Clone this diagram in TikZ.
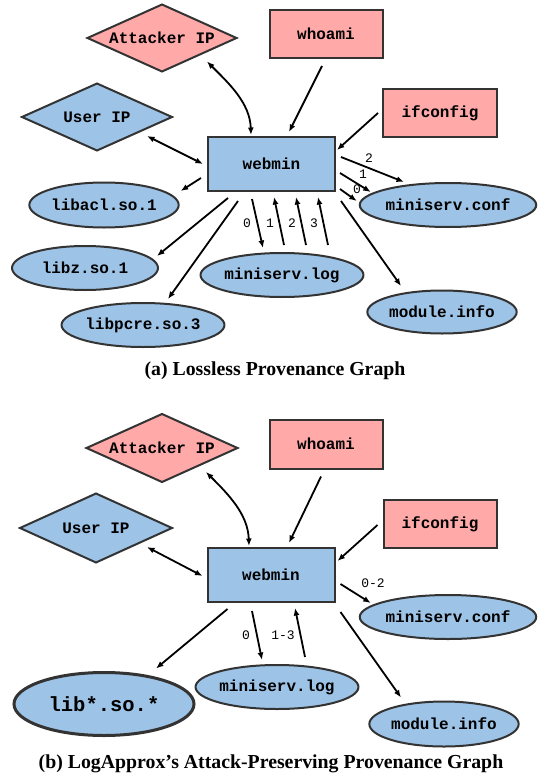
\documentclass[tikz,border=0pt]{standalone}
\usepackage{fontspec}
\setmonofont{Liberation Mono}
\newfontfamily\capfont{Liberation Serif}
\usetikzlibrary{shapes.geometric,arrows.meta}
\definecolor{nblue}{HTML}{9DC3E6}
\definecolor{npink}{HTML}{FFA9A9}
\definecolor{nedge}{HTML}{333333}
\newcommand{\zbox}[1]{\makebox[0pt]{#1}}
\begin{document}
\begin{tikzpicture}[x=1pt,y=-1pt,
  base/.style={draw=nedge,line width=2pt,inner sep=0pt,outer sep=0pt,
    font=\ttfamily\bfseries\fontsize{16}{16}\selectfont},
  procbox/.style={base,rectangle,fill=nblue},
  cmdbox/.style={base,rectangle,fill=npink},
  filebox/.style={base,ellipse,fill=nblue},
  ipblue/.style={base,diamond,fill=nblue},
  ippink/.style={base,diamond,fill=npink},
  arr/.style={line width=1.8pt,-{Latex[length=7.5pt,width=6pt]}},
  barr/.style={line width=1.8pt,{Latex[length=7.5pt,width=6pt]}-{Latex[length=7.5pt,width=6pt]}},
  lbl/.style={font=\ttfamily\fontsize{13}{13}\selectfont,inner sep=0pt},
  captext/.style={font=\capfont\bfseries\fontsize{19.8}{20}\selectfont,inner sep=0pt}]
\useasboundingbox (0,0) rectangle (548,784);

% ---------------- Panel (a) ----------------
\node[ippink,minimum width=149pt,minimum height=67pt] (atkA) at (162,38) {\zbox{Attacker IP}};
\node[cmdbox,minimum width=113pt,minimum height=48pt] (whoA) at (326,34) {whoami};
\node[ipblue,minimum width=150pt,minimum height=67pt] (uipA) at (97,117) {\zbox{User IP}};
\node[cmdbox,minimum width=114pt,minimum height=48pt] (ifcA) at (440,113) {ifconfig};
\node[procbox,minimum width=127pt,minimum height=54pt] (webA) at (271.5,164) {webmin};
\node[filebox,minimum width=145pt,minimum height=44pt] (confA) at (448,205) {miniserv.conf};
\node[filebox,minimum width=138pt,minimum height=45pt] (aclA) at (104,205) {libacl.so.1};
\node[filebox,minimum width=146pt,minimum height=44pt] (libzA) at (85,268) {libz.so.1};
\node[filebox,minimum width=146pt,minimum height=44pt] (pcreA) at (143,325) {libpcre.so.3};
\node[filebox,minimum width=146pt,minimum height=44pt] (logA) at (282,275) {miniserv.log};
\node[filebox,minimum width=145pt,minimum height=43pt] (modA) at (442,312) {module.info};

\draw[barr] ([shift={(45,-10)}]atkA.south) .. controls +(22,22) and +(-1,-32) .. ([shift={(-20.5,-2)}]webA.north);
\draw[arr] ([shift={(-4,8)}]whoA.south) -- ([shift={(17.5,-5)}]webA.north);
\draw[arr] ([shift={(-5,0)}]ifcA.west) -- ([shift={(2,13)}]webA.north east);
\draw[barr] ([shift={(-25,19)}]uipA.east) -- ([shift={(-5,0)}]webA.west);
\draw[arr] ([shift={(-7,14)}]webA.west) -- ([shift={(2,-14)}]aclA.east);
\draw[arr] ([shift={(20,7)}]webA.south west) -- ([shift={(-1,-12)}]libzA.east);
\draw[arr] ([shift={(30,10)}]webA.south west) -- ([shift={(25,-4)}]pcreA.north);
\draw[arr] ([shift={(-19.5,8)}]webA.south) -- ([shift={(-19,-5)}]logA.north);
\draw[arr] ([shift={(2,-8)}]logA.north) -- ([shift={(2.5,6)}]webA.south);
\draw[arr] ([shift={(24,-8)}]logA.north) -- ([shift={(24.5,6)}]webA.south);
\draw[arr] ([shift={(46,-8)}]logA.north) -- ([shift={(46.5,6)}]webA.south);
\draw[arr] ([shift={(6,10)}]webA.south east) -- ([shift={(-41,-4.5)}]modA.north);
\draw[arr] ([shift={(6,-7)}]webA.east) -- ([shift={(-44,-1)}]confA.north);
\draw[arr] ([shift={(5,9)}]webA.east) -- ([shift={(11,-13)}]confA.west);
\draw[arr] ([shift={(5,25)}]webA.east) -- ([shift={(-3,-4)}]confA.west);
\node[lbl] (la0) at (247,223) {0};
\node[lbl] (la1) at (270,223) {1};
\node[lbl] (la2) at (292,223) {2};
\node[lbl] (la3) at (314,223) {3};
\node[lbl] (lc2) at (369,158) {2};
\node[lbl] (lc1) at (363,174) {1};
\node[lbl] (lc0) at (357,189) {0};
\node[captext] (capA) at (275,371) {(a) Lossless Provenance Graph};

% ---------------- Panel (b) ----------------
\node[ippink,minimum width=151pt,minimum height=68pt] (atkB) at (162,448) {\zbox{Attacker IP}};
\node[cmdbox,minimum width=113pt,minimum height=49pt] (whoB) at (326,444) {whoami};
\node[ipblue,minimum width=152pt,minimum height=69pt] (uipB) at (96,528) {\zbox{User IP}};
\node[cmdbox,minimum width=113pt,minimum height=48pt] (ifcB) at (440,524) {ifconfig};
\node[procbox,minimum width=127pt,minimum height=54pt] (webB) at (271,575) {webmin};
\node[filebox,minimum width=145pt,minimum height=44pt] (confB) at (448,617) {miniserv.conf};
\node[filebox,line width=3pt,minimum width=180pt,minimum height=63pt,
  font=\ttfamily\bfseries\fontsize{20.5}{21}\selectfont] (libB) at (104,704) {lib*.so.*};
\node[filebox,minimum width=138pt,minimum height=44pt] (logB) at (277,687) {miniserv.log};
\node[filebox,minimum width=148pt,minimum height=45pt] (modB) at (444,724) {module.info};

\draw[barr] ([shift={(44,-10)}]atkB.south) .. controls +(22,22) and +(-1,-32) .. ([shift={(-22,-2)}]webB.north);
\draw[arr] ([shift={(-5,8)}]whoB.south) -- ([shift={(18,-5)}]webB.north);
\draw[arr] ([shift={(-6,1)}]ifcB.west) -- ([shift={(3,13)}]webB.north east);
\draw[barr] ([shift={(-25,19)}]uipB.east) -- ([shift={(-5,1)}]webB.west);
\draw[arr] ([shift={(6,9)}]webB.east) -- ([shift={(11,-14)}]confB.west);
\draw[arr] ([shift={(20,7)}]webB.south west) -- ([shift={(52,-4)}]libB.north);
\draw[arr] ([shift={(-19,9)}]webB.south) -- ([shift={(-15,-5)}]logB.north);
\draw[arr] ([shift={(28,-8)}]logB.north) -- ([shift={(24,6)}]webB.south);
\draw[arr] ([shift={(6,10)}]webB.south east) -- ([shift={(-43,-4)}]modB.north);
\node[lbl] (lb0) at (246,635) {0};
\node[lbl] (lb13) at (283,635) {1-3};
\node[lbl] (lb02) at (373,583) {0-2};
\node[captext] (capB) at (271,764) {(b) LogApprox’s Attack-Preserving Provenance Graph};
\end{tikzpicture}
\end{document}
